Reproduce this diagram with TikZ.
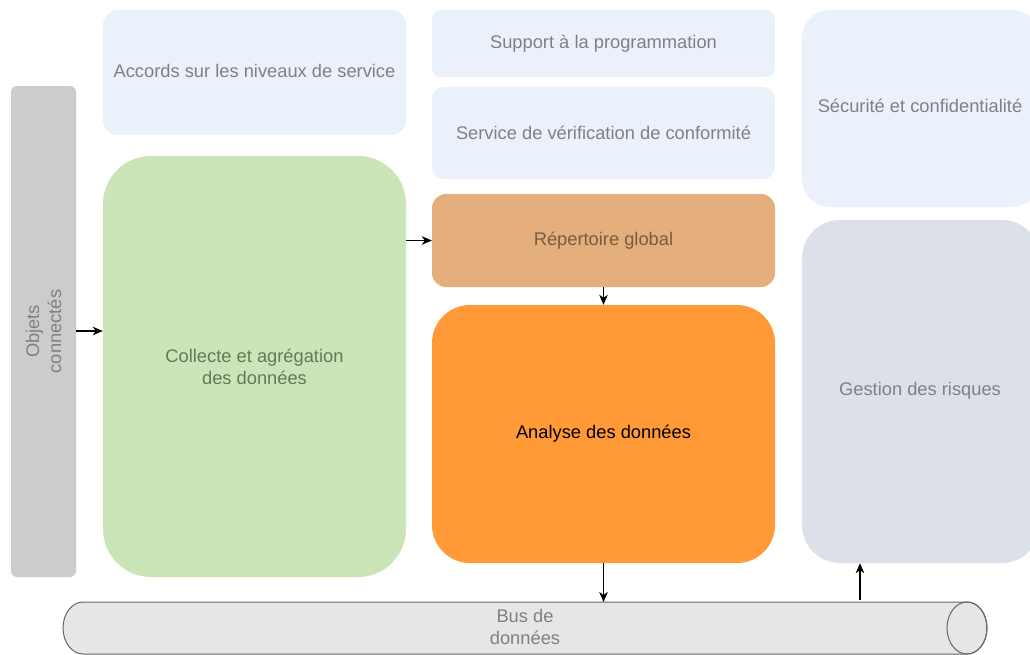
\documentclass[tikz,border=0pt]{standalone}
\usepackage{fontspec}
\setmainfont{Liberation Sans}
\usetikzlibrary{arrows.meta}
\definecolor{lblue}{HTML}{EBF1FB}
\definecolor{objgray}{HTML}{CCCCCC}
\definecolor{lgreen}{HTML}{CCE5B8}
\definecolor{reptan}{HTML}{E4AF7C}
\definecolor{anaorange}{HTML}{FF9A36}
\definecolor{gesgray}{HTML}{DCE0E9}
\definecolor{busfill}{HTML}{E6E6E6}
\definecolor{busline}{HTML}{666666}
\definecolor{txtgray}{HTML}{808080}
\definecolor{reptxt}{HTML}{7A5C3E}
\definecolor{coltxt}{HTML}{66775A}
\begin{document}
\begin{tikzpicture}[x=1pt,y=1pt,
  box/.style={draw=none, rectangle, inner sep=0pt, align=center,
    font=\fontsize{18.3}{22}\selectfont, text=txtgray},
  arr/.style={-{Stealth[length=10pt,width=8.5pt,inset=3pt]}, line width=1.3pt, black}]
\useasboundingbox (0,-655) rectangle (1030,0);
\clip (0,-655) rectangle (1030,0);
\node[box, fill=objgray, rounded corners=6pt, minimum width=65pt, minimum height=491pt] (obj) at (43.5,-331.5) {};
\node[text=txtgray, rotate=90, align=center, font=\fontsize{18.3}{22}\selectfont] (objt) at (obj.center) {Objets\\connectés};
\node[box, fill=lblue, rounded corners=15pt, minimum width=303pt, minimum height=125pt] (acc) at (254.5,-72.5) {};
\node[box] (acct) at (254.5,-71) {Accords sur les niveaux de service};
\node[box, fill=lgreen, rounded corners=48pt, minimum width=303pt, minimum height=421pt, text=coltxt] (col) at (254.5,-366.5) {Collecte et agrégation\\des données};
\node[box, fill=lblue, rounded corners=9pt, minimum width=343pt, minimum height=67pt] (sup) at (603.5,-43.5) {Support à la programmation};
\node[box, fill=lblue, rounded corners=12pt, minimum width=343pt, minimum height=92pt] (ser) at (603.5,-133) {Service de vérification de conformité};
\node[box, fill=reptan, rounded corners=14pt, minimum width=343pt, minimum height=93pt, text=reptxt] (rep) at (603.5,-240.5) {Répertoire global};
\node[box, fill=anaorange, rounded corners=38pt, minimum width=343pt, minimum height=258pt, text=black] (ana) at (603.5,-434) {Analyse des données};
\node[box, fill=lblue, rounded corners=28pt, minimum width=238pt, minimum height=197pt] (sec) at (921,-108.5) {};
\node[box] (sect) at (920,-106) {Sécurité et confidentialité};
\node[box, fill=gesgray, rounded corners=38pt, minimum width=238pt, minimum height=343pt] (ges) at (921,-391.5) {};
\node[box] (gest) at (920,-391) {Gestion des risques};
% data bus cylinder
\draw[draw=busline, line width=1pt, fill=busfill]
  (83,-602) -- (967,-602) arc[start angle=90, end angle=-90, x radius=20, y radius=26]
  -- (83,-654) arc[start angle=270, end angle=90, x radius=20, y radius=26] -- cycle;
\draw[draw=busline, line width=1pt] (967,-628) ellipse[x radius=20, y radius=26];
\coordinate (busN) at (525,-602);
\node[box] (bust) at (525,-627) {Bus de\\données};
\coordinate (gx) at (860,-600);
\coordinate (ya) at (0,-331);
\draw[arr] (obj.east |- ya) -- (col.west |- ya);
\draw[arr] (rep.west -| col.east) -- (rep.west);
\draw[arr] (rep.south) -- (ana.north);
\draw[arr] (ana.south) -- (ana.south |- busN);
\draw[arr] (gx) -- (gx |- ges.south);
\end{tikzpicture}
\end{document}
